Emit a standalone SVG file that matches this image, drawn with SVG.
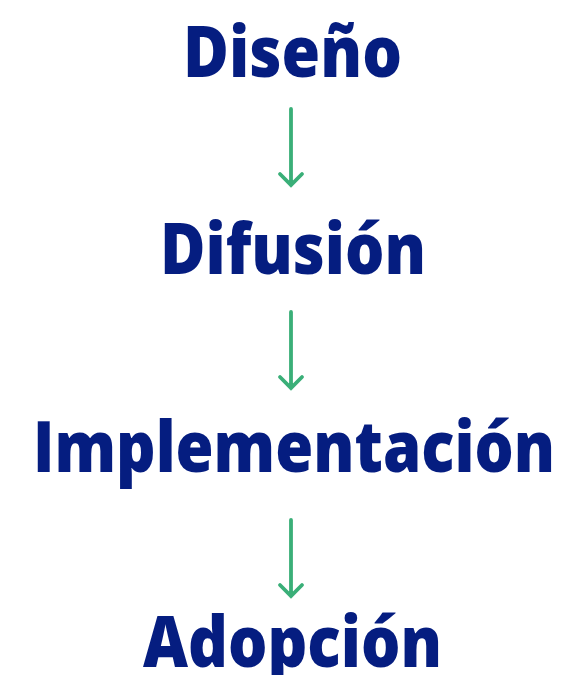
<svg xmlns="http://www.w3.org/2000/svg" width="565" height="675" viewBox="0 0 565 675">
<style>
.t{font-family:"Open Sans","Liberation Sans",sans-serif;font-weight:800;font-size:70px;fill:#051d80;text-anchor:middle}
.c{stroke:#3aaf78;stroke-width:3.8;fill:none;stroke-linecap:round;stroke-linejoin:miter}
</style>
<rect width="565" height="675" fill="#ffffff"/>
<g id="n1"><text class="t" x="292.5" y="77" textLength="219" lengthAdjust="spacingAndGlyphs">Diseño</text></g>
<g id="n2"><text class="t" x="293" y="274" textLength="266" lengthAdjust="spacingAndGlyphs">Difusión</text></g>
<g id="n3"><text class="t" x="294" y="472" textLength="522" lengthAdjust="spacingAndGlyphs">Implementación</text></g>
<g id="n4"><text class="t" x="292.5" y="667" textLength="299" lengthAdjust="spacingAndGlyphs">Adopción</text></g>
<g id="connectors">
<path class="c" d="M291 109V185M280 174L291 185L302 174"/>
<path class="c" d="M291 312V388M280 377L291 388L302 377"/>
<path class="c" d="M291 520V596M280 585L291 596L302 585"/>
</g>
</svg>
